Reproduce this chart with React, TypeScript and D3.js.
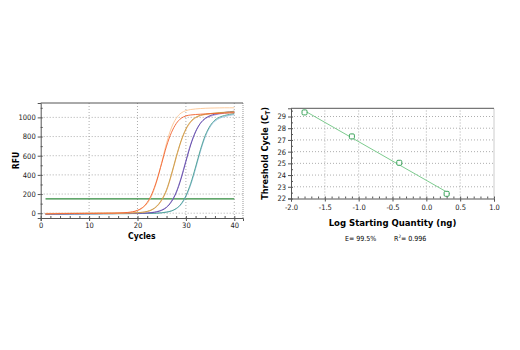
import React, { useEffect, useRef } from 'react';
import * as d3 from 'd3';

// amplification curves, RFU per cycle (cycles 1..40)
const cycles = d3.range(1, 41);
const redCurve = [-8,-6,-5,-4,-4,-3,-3,-3,-2,-2,-2,-1,-1,0,0,2,4,8,15,30,58,112,205,345,520,700,840,935,990,1015,1025,1030,1033,1036,1038,1040,1042,1044,1046,1048];
const peachCurve = [-6,-5,-4,-4,-3,-3,-2,-2,-2,-1,-1,-1,0,0,1,2,4,7,13,26,52,100,190,335,530,730,890,990,1045,1070,1082,1088,1092,1095,1097,1098,1099,1100,1100,1100];
const oliveCurve = [-4,-4,-3,-3,-3,-2,-2,-2,-2,-1,-1,-1,-1,0,0,0,1,2,3,5,10,19,38,75,142,245,405,590,755,880,958,1000,1022,1033,1040,1045,1050,1053,1056,1060];
const orangeCurve = [-2,-2,-2,-1,-1,-1,-1,0,0,0,0,1,1,1,1,2,2,3,4,5,9,17,35,70,134,236,395,580,748,872,950,995,1018,1030,1038,1043,1047,1050,1053,1055];
const purpleCurve = [-10,-9,-8,-8,-7,-7,-6,-6,-6,-5,-5,-5,-4,-4,-4,-3,-3,-2,-2,-1,0,2,6,14,30,60,118,213,358,538,713,848,938,990,1018,1034,1044,1052,1058,1064];
const lavenderCurve = [-7,-7,-6,-6,-6,-5,-5,-5,-4,-4,-4,-3,-3,-3,-2,-2,-2,-1,-1,0,1,3,8,17,34,65,126,222,370,550,723,853,938,986,1010,1026,1036,1044,1050,1055];
const tealCurve = [-12,-11,-10,-10,-9,-9,-8,-8,-8,-7,-7,-7,-6,-6,-6,-5,-5,-5,-4,-4,-3,-3,-2,0,4,11,24,49,97,182,312,482,662,812,912,972,1003,1020,1031,1040];
const blueCurve = [-9,-9,-8,-8,-8,-7,-7,-7,-6,-6,-6,-5,-5,-5,-4,-4,-4,-3,-3,-3,-2,-2,-1,1,5,12,23,46,90,172,297,465,645,797,900,960,992,1009,1020,1030];
const curveSeries = [blueCurve, tealCurve, lavenderCurve, purpleCurve, orangeCurve, oliveCurve, peachCurve, redCurve];
const curveColors = ['#93bde0', '#4a9f90', '#a08fd3', '#6048a8', '#f6a56a', '#c4a04a', '#fcc593', '#f2602e'];
const threshold = 150;
const thresholdCycles = [1, 40];
const rfuTicks = [0, 200, 400, 600, 800, 1000];
const cycleTicks = [0, 10, 20, 30, 40];

// standard curve
const logQty = [-1.8, -1.1, -0.4, 0.3];
const ctValues = [29.35, 27.3, 25.05, 22.4];
const fitRange = [-1.8, 0.35];
const ctTicks = [22, 23, 24, 25, 26, 27, 28, 29];
const qtyTicks = [-2, -1.5, -1, -0.5, 0, 0.5, 1];

const FONT = "'Liberation Sans Narrow', 'DejaVu Sans', 'Liberation Sans', Arial, sans-serif";

const App = () => {
  const ref = useRef(null);

  useEffect(() => {
    const svg = d3.select(ref.current);
    svg.selectAll('*').remove();

    // ---------- left: amplification plot
    const x = d3.scaleLinear().domain([0, 41.8]).range([40.7, 243]);
    const y = d3.scaleLinear().domain([-50, 1150]).range([218, 103]);
    const left = svg.append('g');

    // grid
    left.selectAll('.hg').data(rfuTicks).join('line')
      .attr('x1', x.range()[0]).attr('x2', x.range()[1])
      .attr('y1', d => y(d)).attr('y2', d => y(d))
      .attr('stroke', '#999').attr('stroke-dasharray', '1,2').attr('stroke-width', 0.8);
    left.selectAll('.vg').data(cycleTicks.slice(1)).join('line')
      .attr('x1', d => x(d)).attr('x2', d => x(d))
      .attr('y1', y.range()[0]).attr('y2', y.range()[1])
      .attr('stroke', '#999').attr('stroke-dasharray', '1,2').attr('stroke-width', 0.8);

    // threshold
    left.append('line')
      .attr('x1', x(thresholdCycles[0])).attr('x2', x(thresholdCycles[1]))
      .attr('y1', y(threshold)).attr('y2', y(threshold))
      .attr('stroke', '#2f8a3c').attr('stroke-width', 1.2);

    const line = d3.line()
      .x((d, i) => x(cycles[i]))
      .y(d => y(d))
      .curve(d3.curveMonotoneX);

    curveSeries.forEach((s, i) => {
      left.append('path')
        .datum(s)
        .attr('fill', 'none')
        .attr('stroke', curveColors[i])
        .attr('stroke-width', 0.9)
        .attr('d', line);
    });

    // frame
    left.append('line').attr('x1', x.range()[1]).attr('x2', x.range()[1])
      .attr('y1', y.range()[0]).attr('y2', y.range()[1])
      .attr('stroke', '#999').attr('stroke-dasharray', '1,1');
    left.append('line').attr('x1', x.range()[0]).attr('x2', x.range()[1])
      .attr('y1', y.range()[1]).attr('y2', y.range()[1])
      .attr('stroke', '#555').attr('stroke-width', 1);

    left.append('g').attr('transform', `translate(${x.range()[0]},0)`)
      .call(d3.axisLeft(y).tickValues(rfuTicks).tickSize(3).tickPadding(2).tickFormat(d3.format('d')));
    left.append('g').attr('transform', `translate(${x.range()[0]},0)`)
      .call(d3.axisRight(y).tickValues(d3.range(0, 1150, 100)).tickSize(2).tickFormat(() => ''))
      .select('.domain').remove();
    left.append('g').attr('transform', `translate(0,${y.range()[0]})`)
      .call(d3.axisBottom(x).tickValues(cycleTicks).tickSize(3).tickPadding(2));
    left.append('g').attr('transform', `translate(0,${y.range()[0]})`)
      .call(d3.axisTop(x).tickValues(d3.range(0, 42, 2)).tickSize(2).tickFormat(() => ''))
      .select('.domain').remove();

    left.append('text')
      .attr('transform', `translate(19,${(y.range()[0] + y.range()[1]) / 2}) rotate(-90)`)
      .attr('text-anchor', 'middle')
      .attr('font-weight', 'bold').attr('font-size', 8.5)
      .text('RFU');
    left.append('text')
      .attr('x', (x.range()[0] + x.range()[1]) / 2).attr('y', 238.5)
      .attr('text-anchor', 'middle')
      .attr('font-weight', 'bold').attr('font-size', 8.5)
      .text('Cycles');

    // ---------- right: standard curve
    const xr = d3.scaleLinear().domain([-2, 1]).range([291, 494]);
    const yr = d3.scaleLinear().domain([22, 29.7]).range([198.5, 108.3]);
    const right = svg.append('g');

    right.selectAll('.hg').data(ctTicks.slice(1)).join('line')
      .attr('x1', xr.range()[0]).attr('x2', xr.range()[1])
      .attr('y1', d => yr(d)).attr('y2', d => yr(d))
      .attr('stroke', '#999').attr('stroke-dasharray', '1,2').attr('stroke-width', 0.8);
    right.selectAll('.vg').data(qtyTicks.slice(1, -1)).join('line')
      .attr('x1', d => xr(d)).attr('x2', d => xr(d))
      .attr('y1', yr.range()[0]).attr('y2', yr.range()[1])
      .attr('stroke', '#999').attr('stroke-dasharray', '1,2').attr('stroke-width', 0.8);

    right.append('line').attr('x1', xr.range()[1]).attr('x2', xr.range()[1])
      .attr('y1', yr.range()[0]).attr('y2', yr.range()[1])
      .attr('stroke', '#999').attr('stroke-dasharray', '1,1');
    right.append('line').attr('x1', xr.range()[0]).attr('x2', xr.range()[1])
      .attr('y1', yr.range()[1]).attr('y2', yr.range()[1])
      .attr('stroke', '#555');

    // least squares fit
    const mx = d3.mean(logQty), my = d3.mean(ctValues);
    const slope = d3.sum(logQty, (v, i) => (v - mx) * (ctValues[i] - my)) / d3.sum(logQty, v => (v - mx) ** 2);
    const icpt = my - slope * mx;
    right.append('line')
      .attr('x1', xr(fitRange[0])).attr('x2', xr(fitRange[1]))
      .attr('y1', yr(icpt + slope * fitRange[0])).attr('y2', yr(icpt + slope * fitRange[1]))
      .attr('stroke', '#7ccb8e').attr('stroke-width', 1);

    right.selectAll('.pt').data(logQty).join('rect')
      .attr('x', d => xr(d) - 2.5).attr('y', (d, i) => yr(ctValues[i]) - 2.5)
      .attr('width', 5).attr('height', 5).attr('rx', 1.2)
      .attr('fill', '#fff').attr('stroke', '#3aa35a').attr('stroke-width', 1);

    right.append('g').attr('transform', `translate(${xr.range()[0]},0)`)
      .call(d3.axisLeft(yr).tickValues(ctTicks).tickSize(3).tickPadding(2));
    right.append('g').attr('transform', `translate(${xr.range()[0]},0)`)
      .call(d3.axisRight(yr).tickValues(d3.range(22, 29.75, 0.5)).tickSize(2).tickFormat(() => ''))
      .select('.domain').remove();
    const fmt = d3.format('.1f');
    right.append('g').attr('transform', `translate(0,${yr.range()[0]})`)
      .call(d3.axisBottom(xr).tickValues(qtyTicks).tickSize(3).tickPadding(3)
        .tickFormat(d => fmt(d).replace('\u2212', '-')));
    right.append('g').attr('transform', `translate(0,${yr.range()[0]})`)
      .call(d3.axisTop(xr).tickValues(d3.range(-2, 1.01, 0.1)).tickSize(2).tickFormat(() => ''))
      .select('.domain').remove();

    const yl = right.append('text')
      .attr('transform', `translate(268,${(yr.range()[0] + yr.range()[1]) / 2}) rotate(-90)`)
      .attr('text-anchor', 'middle')
      .attr('font-weight', 'bold').attr('font-size', 9);
    yl.append('tspan').text('Threshold Cycle (C');
    yl.append('tspan').attr('font-size', 6.5).attr('dy', 2).text('T');
    yl.append('tspan').attr('dy', -2).text(')');

    right.append('text')
      .attr('x', (xr.range()[0] + xr.range()[1]) / 2).attr('y', 226)
      .attr('text-anchor', 'middle')
      .attr('font-weight', 'bold').attr('font-size', 9.5)
      .text('Log Starting Quantity (ng)');
    right.append('text')
      .attr('x', 345).attr('y', 240.5).attr('font-size', 7)
      .text('E= 99.5%');
    const r2 = right.append('text')
      .attr('x', 394).attr('y', 240.5).attr('font-size', 7);
    r2.append('tspan').text('R');
    r2.append('tspan').attr('font-size', 4.5).attr('dy', -2.5).text('2');
    r2.append('tspan').attr('dy', 2.5).text('= 0.996');

    svg.selectAll('.tick text').attr('font-size', 7.5).attr('fill', '#222').attr('font-family', FONT);
    svg.selectAll('.domain').attr('stroke', '#555');
    svg.selectAll('.tick line').attr('stroke', '#555');
  }, []);

  return (
    <svg ref={ref} width={520} height={350}
      style={{ position: 'absolute', left: 0, top: 0, fontFamily: FONT, fontStretch: 'condensed', background: '#fff' }} />
  );
};

export default App;
